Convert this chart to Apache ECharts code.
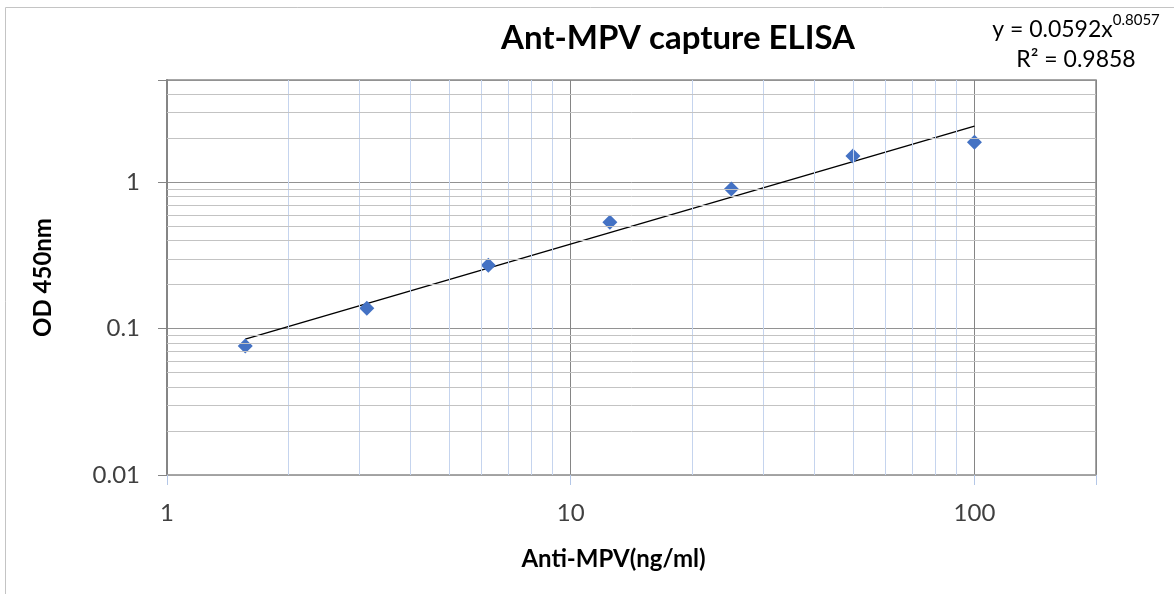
<!DOCTYPE html>
<html>
<head>
<meta charset="utf-8">
<title>Ant-MPV capture ELISA</title>
<script src="https://cdn.jsdelivr.net/npm/echarts@6.0.0/dist/echarts.min.js"></script>
<style>
  html, body { margin: 0; padding: 0; background: #fff; }
  #chart { width: 1174px; height: 594px; }
</style>
</head>
<body>
<div id="chart"></div>
<script>
// standard dilutions (ng/ml) and measured OD
const concentrations = [1.5625, 3.125, 6.25, 12.5, 25, 50, 100];
const odValues = [0.076, 0.138, 0.271, 0.533, 0.90, 1.51, 1.88];

// power trendline end points (y = 0.0592x^0.8057)
const trendX = [1.5625, 100];
const trendY = [0.0848, 2.42];

// minor gridlines
const xMinorGrid = [2, 3, 4, 5, 6, 7, 8, 9, 20, 30, 40, 50, 60, 70, 80, 90];
const yMinorGrid = [0.02, 0.03, 0.04, 0.05, 0.06, 0.07, 0.08, 0.09,
                    0.2, 0.3, 0.4, 0.5, 0.6, 0.7, 0.8, 0.9, 2, 3, 4];

const fontFam = 'Lato, "Open Sans", sans-serif';

function isDecade(v) {
    let l = Math.log10(v);
    return Math.abs(l - Math.round(l)) < 1e-6;
}
function decadeLabel(v) {
    if (!isDecade(v)) return '';
    return String(+v.toPrecision(3));
}

var chart = echarts.init(document.getElementById('chart'));

let gridLines = [];
xMinorGrid.forEach(function (v) {
    gridLines.push({ xAxis: v, lineStyle: { color: '#c5d4ee', width: 1, type: 'solid' } });
});
yMinorGrid.forEach(function (v) {
    gridLines.push({ yAxis: v, lineStyle: { color: '#c3c3c3', width: 1, type: 'solid' } });
});

option = {
    animation: false,
    grid: {
        left: 167,
        right: 78,
        top: 80,
        bottom: 119,
        show: true,
        borderColor: '#8a8a8a',
        borderWidth: 1.5
    },
    graphic: [
        {
            type: 'rect',
            shape: { x: 5.5, y: 7.5, width: 1300, height: 700 },
            style: { fill: 'none', stroke: '#c4c4c4', lineWidth: 1 },
            silent: true
        },
        {
            type: 'text',
            x: 678,
            y: 38,
            style: {
                text: 'Ant-MPV capture ELISA',
                fontFamily: fontFam,
                fontWeight: 'bold',
                fontSize: 33,
                fill: '#000',
                align: 'center',
                verticalAlign: 'middle'
            }
        },
        {
            type: 'text',
            x: 1076,
            y: 27,
            style: {
                text: '{m|y = 0.0592x}{s|0.8057}',
                align: 'center',
                verticalAlign: 'middle',
                rich: {
                    m: { fontFamily: fontFam, fontSize: 23, lineHeight: 28, fill: '#000', verticalAlign: 'bottom' },
                    s: { fontFamily: fontFam, fontSize: 15, lineHeight: 28, fill: '#000', verticalAlign: 'top' }
                }
            }
        },
        {
            type: 'text',
            x: 1076,
            y: 60,
            style: {
                text: 'R² = 0.9858',
                fontFamily: fontFam,
                fontSize: 23,
                fill: '#000',
                align: 'center',
                verticalAlign: 'middle'
            }
        }
    ],
    xAxis: {
        type: 'log',
        logBase: 10,
        min: 1,
        max: 200,
        name: 'Anti-MPV(ng/ml)',
        nameLocation: 'middle',
        nameGap: 72,
        nameTextStyle: {
            fontFamily: fontFam,
            fontWeight: 'bold',
            fontSize: 24,
            color: '#000',
            padding: [0, 36, 0, 0]
        },
        axisLine: { show: true, lineStyle: { color: '#a6a6a6', width: 1.5 } },
        axisTick: { show: true, length: 10, lineStyle: { color: '#b4c7e7' } },
        axisLabel: {
            margin: 26,
            fontFamily: fontFam,
            fontSize: 24,
            color: '#404040',
            formatter: decadeLabel
        },
        splitLine: { show: true, lineStyle: { color: '#858585', width: 1 } }
    },
    yAxis: {
        type: 'log',
        logBase: 10,
        min: 0.01,
        max: 5,
        name: 'OD 450nm',
        nameLocation: 'middle',
        nameGap: 112,
        nameTextStyle: {
            fontFamily: fontFam,
            fontWeight: 'bold',
            fontSize: 24,
            color: '#000'
        },
        axisLine: { show: true, lineStyle: { color: '#858585', width: 2 } },
        axisTick: { show: true, inside: false, length: 9, lineStyle: { color: '#858585' } },
        axisLabel: {
            margin: 27,
            fontFamily: fontFam,
            fontSize: 24,
            color: '#404040',
            formatter: decadeLabel
        },
        splitLine: { show: true, lineStyle: { color: '#929292', width: 1 } }
    },
    series: [
        {
            name: 'grid',
            type: 'line',
            data: [],
            z: 1,
            silent: true,
            markLine: {
                silent: true,
                symbol: ['none', 'none'],
                label: { show: false },
                emphasis: { disabled: true },
                animation: false,
                data: gridLines
            }
        },
        {
            name: 'Trendline',
            type: 'line',
            data: trendX.map(function (x, i) { return [x, trendY[i]]; }),
            showSymbol: false,
            symbol: 'none',
            z: 3,
            lineStyle: { color: '#000', width: 1.5 }
        },
        {
            name: 'OD 450nm',
            type: 'scatter',
            data: concentrations.map(function (x, i) { return [x, odValues[i]]; }),
            symbol: 'diamond',
            symbolSize: 15,
            z: 4,
            itemStyle: { color: '#4472c4', opacity: 1 }
        }
    ]
};

chart.setOption(option);
</script>
</body>
</html>
